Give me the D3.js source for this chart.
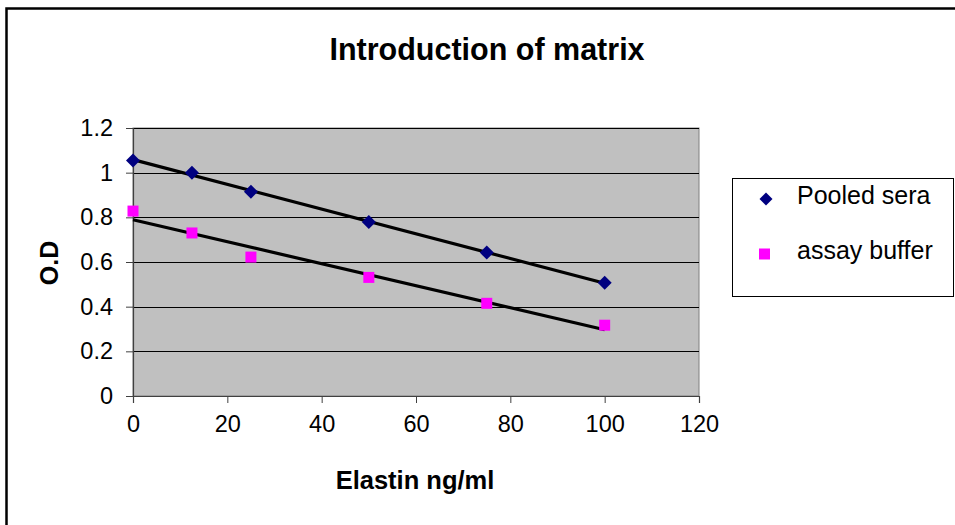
<!DOCTYPE html>
<html>
<head>
<meta charset="utf-8">
<script src="https://cdn.jsdelivr.net/npm/d3@7"></script>
<style>
  body { margin: 0; background: #fff; }
  text { font-family: "Liberation Sans", Arial, sans-serif; }
</style>
</head>
<body>
<div id="chart-area"></div>
<script>
// data
const elastin = [0, 12.5, 25, 50, 75, 100]
const pooledSera = [1.054, 1.0, 0.915, 0.779, 0.642, 0.507]
const assayBuffer = [0.828, 0.73, 0.622, 0.531, 0.415, 0.317]
const seriesNames = ['Pooled sera', 'assay buffer']
const xTicks = [0, 20, 40, 60, 80, 100, 120]
const yTicks = [0, 0.2, 0.4, 0.6, 0.8, 1, 1.2]

const W = 955, H = 525

const margin = {
  left: 133,
  top: 128,
  right: W - 699,
  bottom: H - 396
}

const width = W - margin.left - margin.right,
  height = H - margin.top - margin.bottom;

let svg = d3.select('#chart-area')
  .append('svg')
  .attr('width', W)
  .attr('height', H)

// outer chart border (only top and left are in frame)
svg.append('rect')
  .attr('x', 6.5)
  .attr('y', 8.5)
  .attr('width', W + 20)
  .attr('height', H + 20)
  .attr('fill', 'none')
  .attr('stroke', '#000')
  .attr('stroke-width', 2.5)

let g = svg.append('g')
  .attr('transform', 'translate(' + margin.left + ', ' + margin.top + ')')

let x = d3.scaleLinear()
  .domain([0, 120])
  .range([0, width])

let y = d3.scaleLinear()
  .domain([0, 1.2])
  .range([height, 0])

// plot area
g.append('rect')
  .attr('width', width)
  .attr('height', height)
  .attr('fill', '#c0c0c0')
  .attr('stroke', '#808080')
  .attr('stroke-width', 1)

// gridlines
g.selectAll('.grid')
  .data(yTicks.filter(d => d > 0))
  .enter().append('line')
  .attr('class', 'grid')
  .attr('x1', 0)
  .attr('x2', width)
  .attr('y1', d => Math.round(y(d)) + 0.5)
  .attr('y2', d => Math.round(y(d)) + 0.5)
  .attr('stroke', '#000')
  .attr('stroke-width', 1)

// axes
let xAxisCall = d3.axisBottom(x)
  .tickValues(xTicks)
  .tickSize(7)
  .tickPadding(12)
  .tickFormat(d3.format('d'))
let xAxisGroup = g.append('g')
  .attr('class', 'x axis')
  .attr('transform', 'translate(0,' + height + ')')
  .call(xAxisCall)

let yAxisCall = d3.axisLeft(y)
  .tickValues(yTicks)
  .tickSize(7)
  .tickPadding(13)
  .tickFormat(d => +d)
let yAxisGroup = g.append('g')
  .attr('class', 'y axis')
  .call(yAxisCall)

svg.selectAll('.axis path').attr('stroke', '#404040').attr('stroke-width', 1.2)
svg.selectAll('.axis line').attr('stroke', '#404040')
svg.selectAll('.axis text')
  .attr('font-family', '"Liberation Sans", Arial, sans-serif')
  .attr('font-size', '23.5px')
  .attr('fill', '#000')

// trend lines (least squares)
function fit(xs, ys) {
  let mx = d3.mean(xs), my = d3.mean(ys)
  let sxy = d3.sum(xs, (v, i) => (v - mx) * (ys[i] - my))
  let sxx = d3.sum(xs, v => (v - mx) * (v - mx))
  let b = sxy / sxx
  return [b, my - b * mx]
}

[pooledSera, assayBuffer].forEach(ys => {
  let [b, a] = fit(elastin, ys)
  let ends = [d3.min(elastin), d3.max(elastin)]
  g.append('line')
    .attr('x1', x(ends[0]))
    .attr('y1', y(a + b * ends[0]))
    .attr('x2', x(ends[1]))
    .attr('y2', y(a + b * ends[1]))
    .attr('stroke', '#000')
    .attr('stroke-width', 3.2)
})

const diamond = 'M0,-7L7,0L0,7L-7,0Z'

// markers
g.selectAll('.diamond')
  .data(elastin.map((d, i) => [d, pooledSera[i]]))
  .enter().append('path')
  .attr('class', 'diamond')
  .attr('d', diamond)
  .attr('transform', d => 'translate(' + x(d[0]) + ',' + y(d[1]) + ')')
  .attr('fill', '#000080')

g.selectAll('.square')
  .data(elastin.map((d, i) => [d, assayBuffer[i]]))
  .enter().append('rect')
  .attr('class', 'square')
  .attr('x', d => x(d[0]) - 5.5)
  .attr('y', d => y(d[1]) - 5.5)
  .attr('width', 11)
  .attr('height', 11)
  .attr('fill', '#ff00ff')

// titles
svg.append('text')
  .attr('x', 487)
  .attr('y', 60)
  .attr('text-anchor', 'middle')
  .attr('font-size', '30.5px')
  .attr('font-weight', 'bold')
  .text('Introduction of matrix')

svg.append('text')
  .attr('x', 415)
  .attr('y', 489)
  .attr('text-anchor', 'middle')
  .attr('font-size', '25.5px')
  .attr('font-weight', 'bold')
  .text('Elastin ng/ml')

svg.append('text')
  .attr('transform', 'translate(58, 263) rotate(-90)')
  .attr('text-anchor', 'middle')
  .attr('font-size', '25px')
  .attr('font-weight', 'bold')
  .text('O.D')

// legend
let legend = svg.append('g')
  .attr('transform', 'translate(732, 178)')

legend.append('rect')
  .attr('x', 0.5)
  .attr('y', 0.5)
  .attr('width', 221)
  .attr('height', 118)
  .attr('fill', '#fff')
  .attr('stroke', '#000')
  .attr('stroke-width', 1)

seriesNames.forEach((name, i) => {
  let legendRow = legend.append('g')
    .attr('transform', 'translate(0, ' + (21 + i * 55) + ')')

  if (i === 0) {
    legendRow.append('path')
      .attr('d', 'M0,-6.5L6.5,0L0,6.5L-6.5,0Z')
      .attr('transform', 'translate(34, 0)')
      .attr('fill', '#000080')
  } else {
    legendRow.append('rect')
      .attr('x', 27)
      .attr('y', -5.5)
      .attr('width', 11)
      .attr('height', 11)
      .attr('fill', '#ff00ff')
  }

  legendRow.append('text')
    .attr('x', 65)
    .attr('y', 5)
    .attr('font-size', '25px')
    .text(name)
})
</script>
</body>
</html>
